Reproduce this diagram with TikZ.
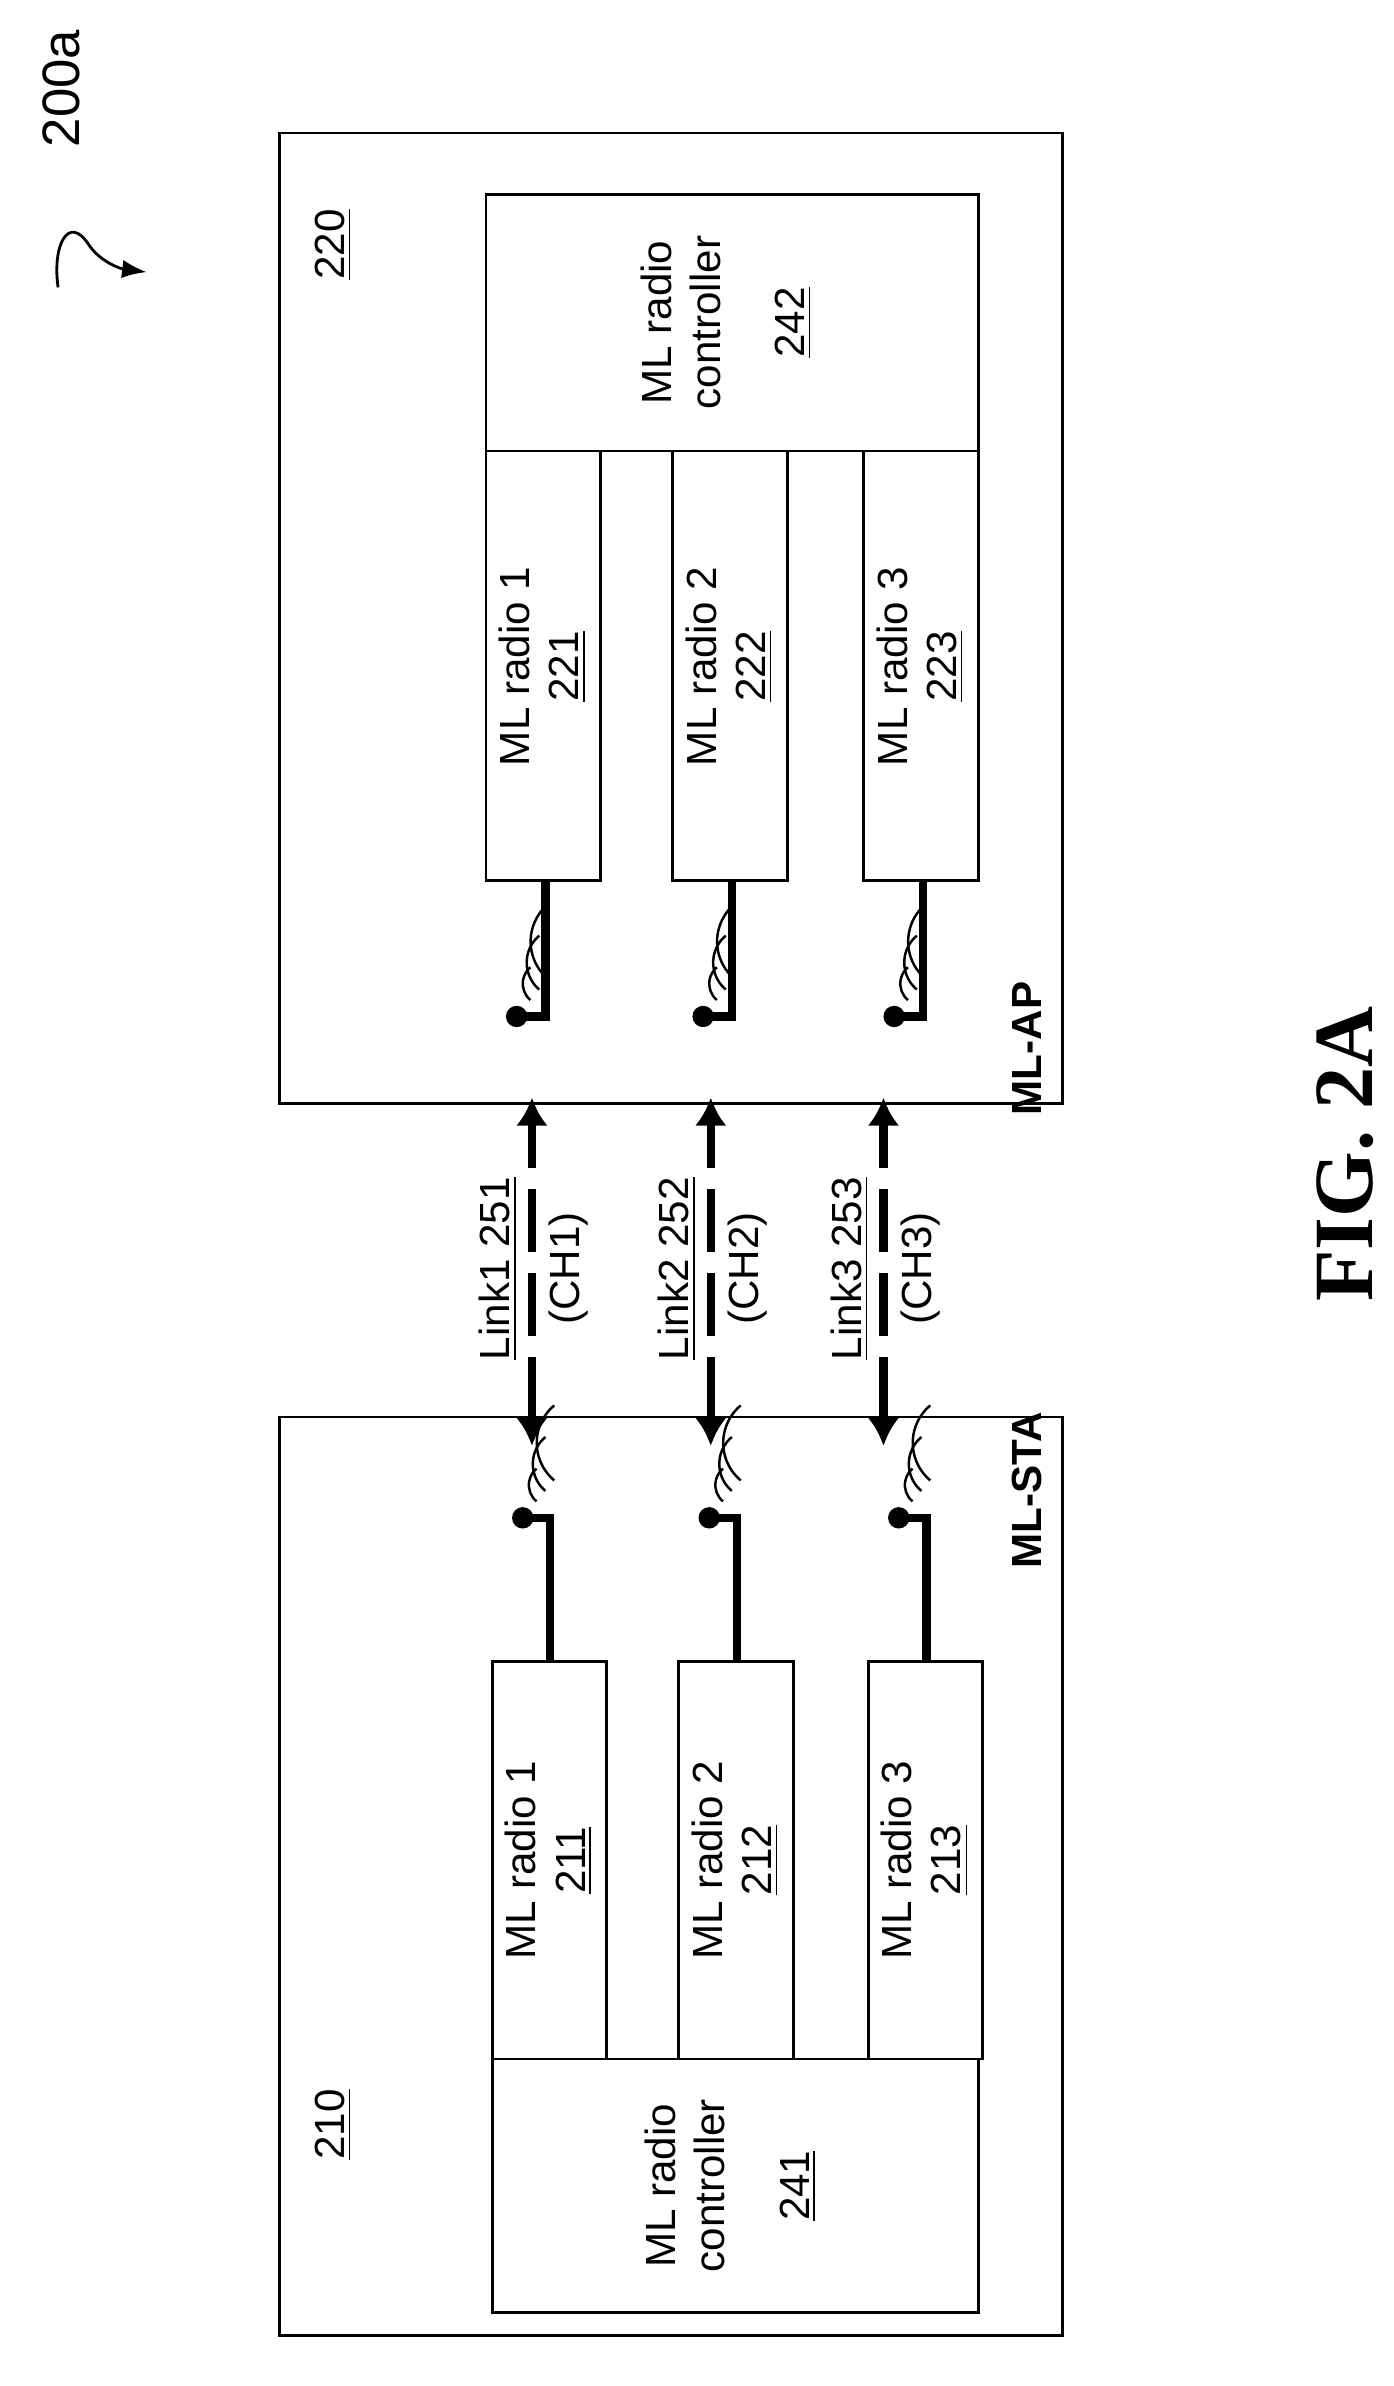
\documentclass[tikz,border=0pt]{standalone}
\usepackage{fontspec}
\setmainfont{Liberation Sans}
\newfontfamily\figfont{Liberation Serif}
\usetikzlibrary{arrows.meta,positioning,calc}

\tikzset{box/.style={draw, line width=0.8pt},
         lbl/.style={rotate=90, font=\fontsize{12}{14}\selectfont, align=center},
         tag/.style={rotate=90, font=\fontsize{12}{14}\selectfont\bfseries},
         stem/.style={line width=2.4pt},
         link/.style={line width=2.4pt, dash pattern=on 18pt off 6pt, {Latex[length=8pt,width=9pt]}-{Latex[length=8pt,width=9pt]}}}

% antenna: dot with three wave arcs on its left
\newcommand{\antenna}[1]{%
  \fill (#1) circle (7);
  \foreach \r in {14,23,32}
    \draw[line width=0.7pt] ($(#1)+(\r*0.6428,-\r*0.7660)$) arc[start angle=130, end angle=230, radius=\r];}

\begin{document}
\begin{tikzpicture}[x=0.015285cm, y=-0.015285cm]
  \useasboundingbox (0,0) rectangle (912,1561);

  % ML-AP
  \draw[box] (183,87) rectangle (695,722);
  \node[lbl] (apnum) at (218,160) {\underline{220}};
  \node[tag] (aplbl) at (672,686) {ML-AP};
  \draw[box] (318,127) rectangle (640,295);
  \node[lbl] (ctlap) at (475,211) {ML radio\\controller\\[10pt]\underline{242}};
  \foreach \x/\n in {318/221,440/222,565/223}{
    \draw[box] (\x,295) rectangle ({\x+75},576);
    \node[lbl] (r\n) at ({\x+37},436) {ML radio \the\numexpr(\n-220)\relax\\\underline{\n}};
    \coordinate (a\n) at ({\x+20},665);
    \antenna{a\n}
    \draw[stem] ({\x+39},576) |- (a\n);
  }

  % ML-STA
  \draw[box] (183,927) rectangle (695,1528);
  \node[lbl] (stanum) at (218,1390) {\underline{210}};
  \node[tag] (stalbl) at (672,975) {ML-STA};
  \draw[box] (322,1347) rectangle (640,1513);
  \node[lbl] (ctlsta) at (478,1430) {ML radio\\controller\\[10pt]\underline{241}};
  \foreach \x/\n in {322/211,444/212,568/213}{
    \draw[box] (\x,1087) rectangle ({\x+75},1347);
    \node[lbl] (r\n) at ({\x+37},1217) {ML radio \the\numexpr(\n-210)\relax\\\underline{\n}};
    \coordinate (a\n) at ({\x+20},993);
    \antenna{a\n}
    \draw[stem] (a\n) -| ({\x+38},1087);
  }

  % links
  \foreach \x/\k in {348/1,465/2,578/3}{
    \coordinate (lt\k) at (\x,718);
    \coordinate (lb\k) at (\x,946);
    \draw[link] (lb\k) -- (lt\k);
    \node[lbl] (ln\k) at ({\x-22},830) {\underline{Link\k\ 25\k}};
    \node[lbl] (ch\k) at ({\x+24},830) {(CH\k)};
  }

  % figure reference
  \node[lbl, font=\fontsize{15}{17}\selectfont] (ref) at (40,58) {200a};
  \coordinate (rs) at (38,188);
  \coordinate (re) at (96,178);
  \draw[line width=0.8pt, -{Latex[length=7pt]}] (rs) .. controls (34,160) and (45,140) .. (58,160) .. controls (66,172) and (80,176) .. (re);

  \node[rotate=90, font=\figfont\fontsize{24}{28}\selectfont\bfseries] (fig) at (880,755) {FIG. 2A};
\end{tikzpicture}
\end{document}
